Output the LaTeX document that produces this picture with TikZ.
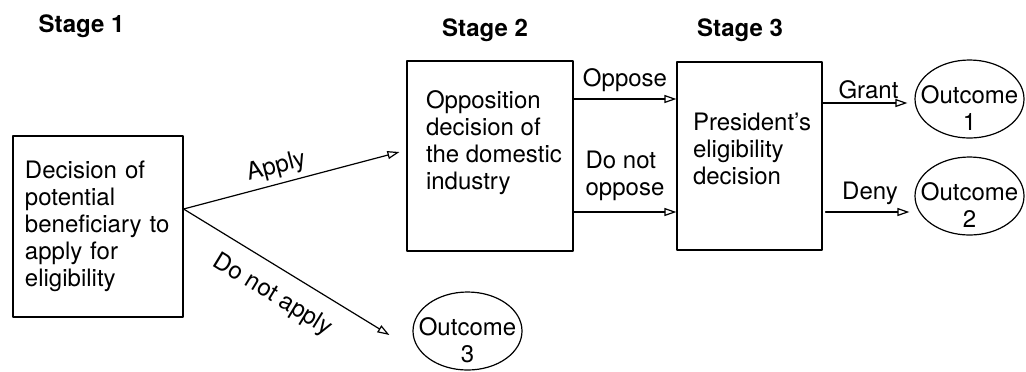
\documentclass[tikz,border=0pt]{standalone}
\usepackage{fontspec}
\setmainfont{TeX Gyre Heros}
\usetikzlibrary{arrows.meta,shapes.geometric}
\begin{document}
\begin{tikzpicture}[x=0.5pt,y=-0.5pt,line join=round,line cap=round,line width=0.6pt,
    >={Triangle[open,length=6pt,width=4pt]},font=\fontsize{12pt}{13.5pt}\selectfont]
  \tikzset{stage/.style={font=\fontsize{12pt}{13.5pt}\selectfont\bfseries,anchor=base},
    box/.style={draw,inner sep=0pt},
    outc/.style={draw,ellipse,minimum width=54.5pt,minimum height=39pt,inner sep=0pt},
    txt/.style={align=left,inner sep=0pt,anchor=north west},
    otxt/.style={align=center,inner sep=0pt,yshift=-4.5pt}}
  \useasboundingbox (0,0) rectangle (1026,371);
  \foreach \i/\x/\y in {1/81.5/32,2/485/36,3/740/36}
    \node[stage] (s\i) at (\x,\y) {Stage \i};
  % decision boxes
  \node[box,text width=73pt,inner xsep=6pt,minimum height=90.5pt,align=left] (b1) at (98,226.5)
    {Decision of\\potential\\beneficiary to\\apply for\\eligibility};
  \node[box,minimum width=83pt,minimum height=95pt] (b2) at (490,156) {};
  \node[txt] (t2) at ([shift={(9.5pt,-15pt)}]b2.north west) {Opposition\\decision of\\the domestic\\industry};
  \node[box,minimum width=72.5pt,minimum height=94pt] (b3) at (749.5,156) {};
  \node[txt] (t3) at ([shift={(8pt,-25.5pt)}]b3.north west) {President's\\eligibility\\decision};
  % outcomes
  \node[outc] (o1) at (969.5,99) {};
  \node[otxt] (o1t) at (o1) {Outcome\\1};
  \node[outc] (o2) at (969.5,196) {};
  \node[otxt] (o2t) at (o2) {Outcome\\2};
  \node[outc] (o3) at (467.5,331) {};
  \node[otxt] (o3t) at (o3) {Outcome\\3};
  % branches
  \coordinate (split) at ([yshift=8.75pt]b1.east);
  \draw[->] (split) -- ([xshift=-3.5pt,yshift=2pt]b2.west)
    node[pos=0.45,sloped,above,inner sep=2.5pt] {Apply};
  \draw[->] (split) -- ([xshift=-11.5pt,yshift=-2pt]o3.west)
    node[pos=0.5,sloped,below,inner sep=7.5pt] {Do not apply};
  \draw[->] ([yshift=28.5pt]b2.east) -- ([yshift=28.5pt]b3.west) node[midway,above] {Oppose};
  \draw[->] ([yshift=-28pt]b2.east) -- ([yshift=-28pt]b3.west)
    node[midway,above,align=left,yshift=2pt] {Do not\\oppose};
  \draw[->,shorten >=3.5pt] ([yshift=26.5pt]b3.east) -- ([yshift=-2pt]o1.west)
    node[midway,above,yshift=-1.5pt] {Grant};
  \draw[->,shorten >=2.5pt] ([shift={(1.5pt,-28pt)}]b3.east) -- ([yshift=-8pt]o2.west)
    node[midway,above] {Deny};
\end{tikzpicture}
\end{document}
